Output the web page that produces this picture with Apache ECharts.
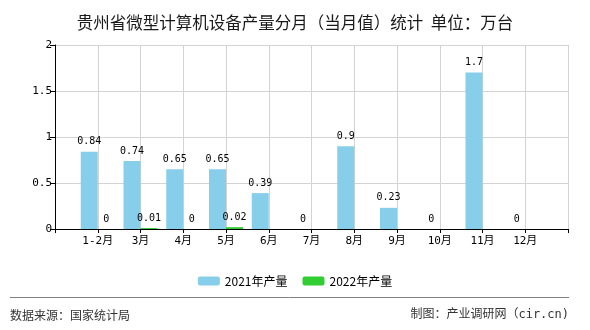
<!DOCTYPE html>
<html>
<head>
<meta charset="utf-8">
<script src="https://cdn.jsdelivr.net/npm/echarts@6/dist/echarts.min.js"></script>
<style>
html,body{margin:0;padding:0;background:#fff;}
#c{width:590px;height:330px;}
</style>
</head>
<body>
<div id="c"></div>
<script>
var months = ['1-2月','3月','4月','5月','6月','7月','8月','9月','10月','11月','12月'];
var output2021 = [0.84, 0.74, 0.65, 0.65, 0.39, 0, 0.9, 0.23, 0, 1.7, 0];
var output2022 = [0, 0.01, 0, 0.02, null, null, null, null, null, null, null];
var seriesNames = ['2021年产量', '2022年产量'];
var yTicks = [0, 0.5, 1, 1.5, 2];

var cats = [''].concat(months).concat(['']);
function pad(a){ return [null].concat(a).concat([null]); }

var monoFont = '"DejaVu Sans Mono", "Noto Sans CJK SC", monospace';
var chart = echarts.init(document.getElementById('c'));
chart.setOption({
  animation: false,
  backgroundColor: '#fff',
  title: {
    text: '贵州省微型计算机设备产量分月（当月值）统计  单位：万台',
    left: 'center', top: 9,
    textStyle: {fontFamily: '"Noto Sans CJK SC", sans-serif', fontSize: 16.5, fontWeight: 'normal', color: '#1a1a1a'}
  },
  legend: {
    data: seriesNames,
    left: 'center', top: 270,
    itemWidth: 22, itemHeight: 9, itemGap: 15,
    textStyle: {fontFamily: '"Noto Sans CJK SC", sans-serif', fontSize: 12, color: '#000'}
  },
  grid: {left: 55, right: 22, top: 45, bottom: 101, containLabel: false},
  xAxis: {
    type: 'category', data: cats, boundaryGap: false,
    axisLine: {lineStyle: {color: '#000', width: 1}},
    axisTick: {show: true, interval: 0, length: 4, lineStyle: {color: '#000'}},
    axisLabel: {interval: 0, margin: 7, color: '#000', fontSize: 11, fontFamily: monoFont},
    splitLine: {show: true, interval: 0, lineStyle: {color: '#d3d3d3', width: 1}}
  },
  yAxis: {
    type: 'value', min: yTicks[0], max: yTicks[yTicks.length-1], interval: 0.5,
    axisLine: {show: true, lineStyle: {color: '#000', width: 1}},
    axisTick: {show: true, length: 5, lineStyle: {color: '#000'}},
    axisLabel: {margin: 3, color: '#000', fontSize: 11, fontFamily: monoFont},
    splitLine: {show: true, lineStyle: {color: '#d3d3d3', width: 1}}
  },
  series: [
    {
      name: seriesNames[0], type: 'bar', data: pad(output2021),
      barWidth: 17, barGap: '0%',
      itemStyle: {color: '#87CEEB'},
      label: {show: true, position: 'top', distance: 5, color: '#000', fontSize: 10, fontFamily: monoFont}
    },
    {
      name: seriesNames[1], type: 'bar', data: pad(output2022),
      barWidth: 17, barGap: '0%',
      itemStyle: {color: '#32CD32'},
      label: {show: true, position: 'top', distance: 5, color: '#000', fontSize: 10, fontFamily: monoFont}
    }
  ],
  graphic: [
    {type: 'line', shape: {x1: 10, y1: 297.5, x2: 569, y2: 297.5}, style: {stroke: '#808080', lineWidth: 1}},
    {type: 'text', left: 10, top: 309, style: {text: '数据来源：国家统计局', fontSize: 12, fontFamily: '"Noto Sans CJK SC", sans-serif', fill: '#333'}},
    {type: 'text', right: 21, top: 309, style: {text: '制图：产业调研网（cir.cn)', fontSize: 12, fontFamily: monoFont, fill: '#333'}}
  ]
});
</script>
</body>
</html>
